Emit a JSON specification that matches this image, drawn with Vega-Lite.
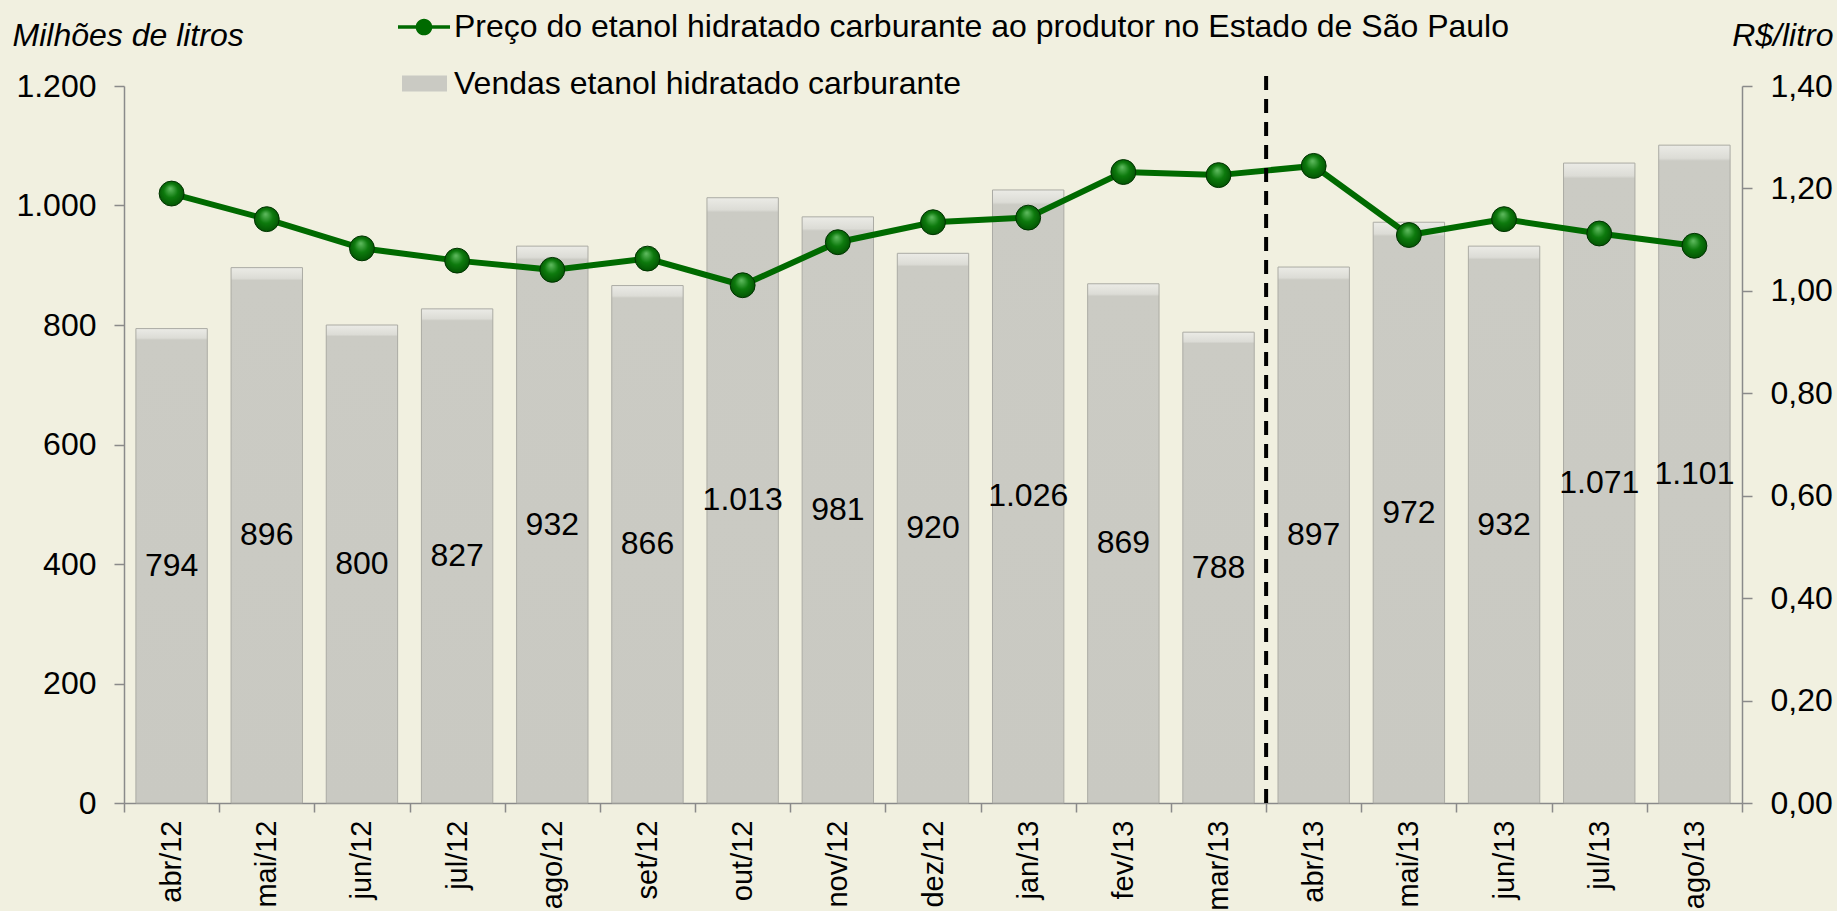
{
  "$schema": "https://vega.github.io/schema/vega-lite/v6.json",
  "width": 1618,
  "height": 717,
  "autosize": {"type": "none"},
  "padding": {"left": 124, "top": 86, "right": 95, "bottom": 108},
  "background": "#F1F0E0",
  "config": {
    "locale": {"number": {"decimal": ",", "thousands": ".", "grouping": [3], "currency": ["R$", ""]}},
    "font": "Liberation Sans",
    "view": {"stroke": null},
    "axis": {
      "labelFont": "Liberation Sans",
      "labelFontSize": 32,
      "labelColor": "#000000",
      "domainColor": "#8a8a8a",
      "tickColor": "#8a8a8a",
      "domainWidth": 1.5,
      "tickWidth": 1.5,
      "grid": false,
      "titleFont": "Liberation Sans",
      "titleColor": "#000000"
    },
    "legend": {"labelFont": "Liberation Sans", "labelFontSize": 32, "labelColor": "#000000", "labelLimit": 0}
  },
  "data": {
    "values": [
      {"mes": "abr/12", "vendas": 794, "preco": 1.19},
      {"mes": "mai/12", "vendas": 896, "preco": 1.14},
      {"mes": "jun/12", "vendas": 800, "preco": 1.083},
      {"mes": "jul/12", "vendas": 827, "preco": 1.059},
      {"mes": "ago/12", "vendas": 932, "preco": 1.041},
      {"mes": "set/12", "vendas": 866, "preco": 1.063},
      {"mes": "out/12", "vendas": 1013, "preco": 1.011},
      {"mes": "nov/12", "vendas": 981, "preco": 1.095},
      {"mes": "dez/12", "vendas": 920, "preco": 1.134},
      {"mes": "jan/13", "vendas": 1026, "preco": 1.143},
      {"mes": "fev/13", "vendas": 869, "preco": 1.232},
      {"mes": "mar/13", "vendas": 788, "preco": 1.226},
      {"mes": "abr/13", "vendas": 897, "preco": 1.244},
      {"mes": "mai/13", "vendas": 972, "preco": 1.109},
      {"mes": "jun/13", "vendas": 932, "preco": 1.14},
      {"mes": "jul/13", "vendas": 1071, "preco": 1.112},
      {"mes": "ago/13", "vendas": 1101, "preco": 1.088}
    ]
  },
  "layer": [
    {
      "mark": {
        "type": "bar", "width": {"band": 0.75}, "stroke": "#ababa4", "strokeWidth": 1,
        "fill": {"gradient": "linear", "x1": 0, "y1": 0, "x2": 0, "y2": 1,
                 "stops": [{"offset": 0, "color": "#ebebe6"}, {"offset": 0.02, "color": "#dcdcd6"}, {"offset": 0.024, "color": "#cbcbc4"}, {"offset": 1, "color": "#c9c9c2"}]}
      },
      "encoding": {
        "x": {
          "field": "mes", "type": "nominal", "sort": null,
          "scale": {"domain": ["abr/12","mai/12","jun/12","jul/12","ago/12","set/12","out/12","nov/12","dez/12","jan/13","fev/13","mar/13","abr/13","mai/13","jun/13","jul/13","ago/13"], "paddingInner": 0, "paddingOuter": 0},
          "axis": {"title": null, "labelAngle": -90, "tickBand": "extent", "tickSize": 9, "labelPadding": 8, "labelFontSize": 29}
        },
        "y": {
          "field": "vendas", "type": "quantitative",
          "scale": {"domain": [0, 1200], "nice": false},
          "axis": {
            "orient": "left", "values": [0, 200, 400, 600, 800, 1000, 1200], "format": ",.0f",
            "tickSize": 10, "labelPadding": 18,
            "title": "Milhões de litros", "titleAngle": 0, "titleX": -112, "titleY": -41,
            "titleAlign": "left", "titleBaseline": "alphabetic", "titleFontStyle": "italic",
            "titleFontWeight": "normal", "titleFontSize": 32
          }
        }
      }
    },
    {
      "mark": {"type": "bar", "width": {"band": 0.75}, "opacity": 0},
      "encoding": {
        "x": {"field": "mes", "type": "nominal", "sort": null},
        "y": {"field": "vendas", "type": "quantitative", "scale": {"domain": [0, 1200], "nice": false}, "axis": null},
        "fill": {
          "datum": "Vendas etanol hidratado carburante",
          "scale": {"range": ["#cacac3"]},
          "legend": {
            "title": null, "orient": "none", "legendX": 278, "legendY": -25, "padding": 0,
            "symbolType": "M-1,-0.36H1V0.36H-1Z", "symbolSize": 2025, "labelOffset": 7, "symbolOpacity": 1,
            "encode": {"symbols": {"update": {"fill": {"value": "#c4c4c6"}, "strokeWidth": {"value": 0}, "opacity": {"value": 1}}}}
          }
        }
      }
    },
    {
      "mark": {"type": "text", "fontSize": 32, "font": "Liberation Sans", "color": "#000000", "baseline": "middle", "align": "center"},
      "encoding": {
        "x": {"field": "mes", "type": "nominal", "sort": null},
        "y": {"field": "vendas", "type": "quantitative", "scale": {"domain": [0, 2400], "nice": false}, "axis": null},
        "text": {"field": "vendas", "type": "quantitative", "format": ",.0f"}
      }
    },
    {
      "mark": {"type": "line", "strokeWidth": 6},
      "encoding": {
        "x": {"field": "mes", "type": "nominal", "sort": null},
        "y": {
          "field": "preco", "type": "quantitative",
          "scale": {"domain": [0, 1.4], "nice": false},
          "axis": {
            "orient": "right", "values": [0, 0.2, 0.4, 0.6, 0.8, 1.0, 1.2, 1.4], "format": ".2f",
            "tickSize": 10, "labelPadding": 18,
            "title": "R$/litro", "titleAngle": 0, "titleX": 91, "titleY": -41,
            "titleAlign": "right", "titleBaseline": "alphabetic", "titleFontStyle": "italic",
            "titleFontWeight": "normal", "titleFontSize": 32
          }
        },
        "stroke": {
          "datum": "Preço do etanol hidratado carburante ao produtor no Estado de São Paulo",
          "scale": {"range": ["#006a00"]},
          "legend": {
            "title": null, "orient": "none", "legendX": 274, "legendY": -85, "padding": 0,
            "symbolType": "M-1,-0.07H1V0.07H-1Z M0.32,0 A0.32,0.32 0 1 1 -0.32,0 A0.32,0.32 0 1 1 0.32,0 Z",
            "symbolSize": 2704, "labelOffset": 4,
            "encode": {"symbols": {"update": {"fill": {"value": "#006a00"}, "strokeWidth": {"value": 0}}}}
          }
        }
      }
    },
    {
      "mark": {
        "type": "point", "filled": true, "size": 620, "opacity": 1,
        "fill": {"gradient": "radial", "x1": 0.45, "y1": 0.3, "r1": 0.02, "x2": 0.5, "y2": 0.5, "r2": 0.6,
                 "stops": [{"offset": 0, "color": "#5cb85c"}, {"offset": 0.45, "color": "#0d7a0d"}, {"offset": 1, "color": "#004a00"}]},
        "stroke": "#003300", "strokeWidth": 1
      },
      "encoding": {
        "x": {"field": "mes", "type": "nominal", "sort": null},
        "y": {"field": "preco", "type": "quantitative", "scale": {"domain": [0, 1.4], "nice": false}, "axis": null}
      }
    },
    {
      "data": {"values": [{"mes": "abr/13", "y0": 0, "y1": 1228}]},
      "mark": {"type": "rule", "color": "#000000", "strokeWidth": 4, "strokeDash": [14, 9], "clip": false},
      "encoding": {
        "x": {"field": "mes", "type": "nominal", "sort": null, "bandPosition": 0},
        "y": {"field": "y0", "type": "quantitative", "scale": {"domain": [0, 1200], "nice": false}, "axis": null},
        "y2": {"field": "y1"}
      }
    }
  ],
  "resolve": {"scale": {"y": "independent"}}
}
